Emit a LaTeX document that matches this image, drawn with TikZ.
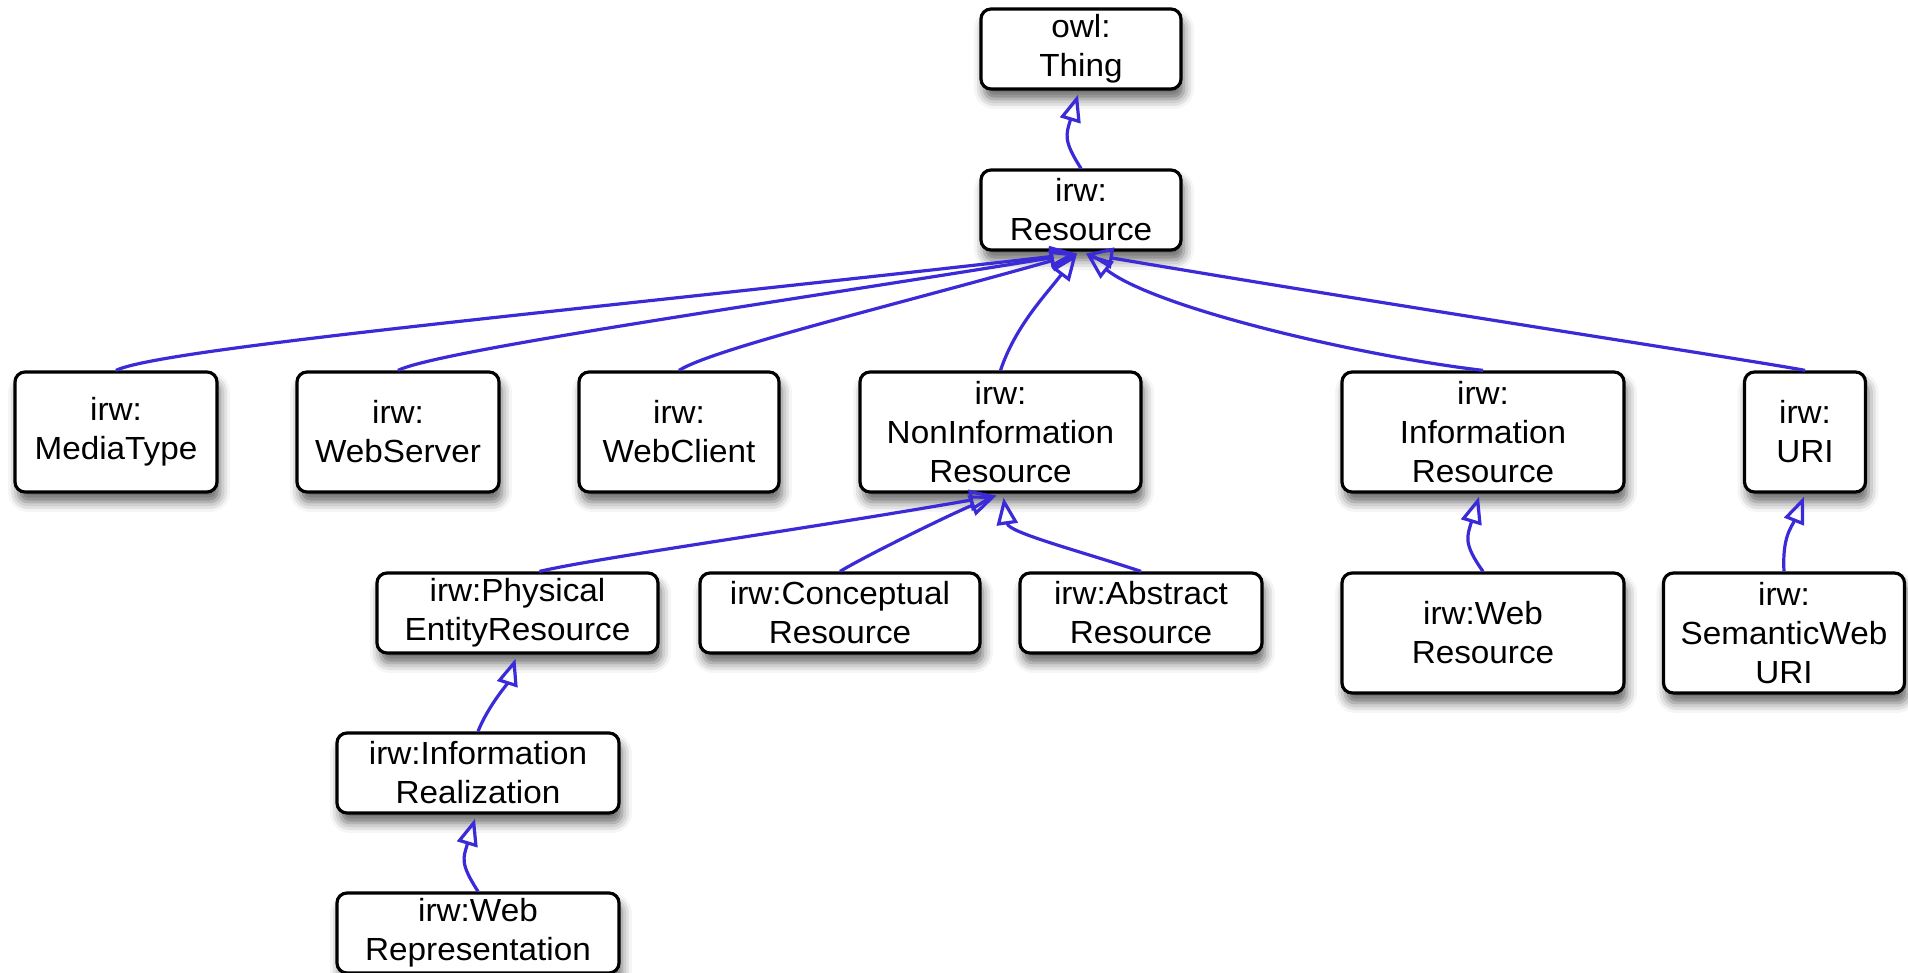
\documentclass[tikz,border=0pt]{standalone}
\usepackage{fontspec}
\setmainfont{Liberation Sans}[FakeStretch=1.04]
\usetikzlibrary{arrows.meta,shadows.blur}
\definecolor{edgeblue}{RGB}{58,42,215}
\tikzset{
  box/.style={draw=black, line width=1.6pt, fill=white, rounded corners=5pt,
    align=center, inner sep=0pt,
    font=\fontsize{16pt}{19.5pt}\selectfont,
    blur shadow={shadow xshift=1.5pt, shadow yshift=-5pt, shadow blur radius=5pt, shadow opacity=60}},
  isa/.style={draw=edgeblue, line width=1.6pt,
    -{Triangle[open, length=13.5pt, width=10.5pt, line width=1.6pt]}}
}
\begin{document}
\begin{tikzpicture}[x=0.5pt, y=-0.5pt]
\useasboundingbox (0,0) rectangle (1908,973);
% nodes
\node[box, minimum width=100pt, minimum height=40pt] (thing) at (1081,49) {owl:\\Thing};
\node[box, minimum width=100pt, minimum height=40pt] (res) at (1081,210) {irw:\\Resource};
\node[box, minimum width=101pt, minimum height=60pt] (mt) at (116,432) {irw:\\MediaType};
\node[box, minimum width=101pt, minimum height=60pt] (ws) at (398,432) {irw:\\WebServer};
\node[box, minimum width=100pt, minimum height=60pt] (wc) at (679,432) {irw:\\WebClient};
\node[box, minimum width=140.5pt, minimum height=60pt] (ni) at (1000.5,432) {irw:\\NonInformation\\Resource};
\node[box, minimum width=141pt, minimum height=60pt] (ir) at (1483,432) {irw:\\Information\\Resource};
\node[box, minimum width=60.5pt, minimum height=60pt] (uri) at (1805,432) {irw:\\URI};
\node[box, minimum width=140.5pt, minimum height=40pt] (phys) at (517.5,613) {irw:Physical\\EntityResource};
\node[box, minimum width=140pt, minimum height=40pt] (conc) at (840,613) {irw:Conceptual\\Resource};
\node[box, minimum width=121pt, minimum height=40pt] (abs) at (1141,613) {irw:Abstract\\Resource};
\node[box, minimum width=141pt, minimum height=60pt] (wr) at (1483,633) {irw:Web\\Resource};
\node[box, minimum width=120.5pt, minimum height=60pt] (sw) at (1784,633) {irw:\\SemanticWeb\\URI};
\node[box, minimum width=141pt, minimum height=40pt] (real) at (478,773) {irw:Information\\Realization};
\node[box, minimum width=141pt, minimum height=40pt] (rep) at (478,933) {irw:Web\\Representation};
% tip coordinates
\coordinate (thingT) at ([shift={(-3,4)}]thing.south);
\coordinate (resL) at ([shift={(-4,2)}]res.south);
\coordinate (resR) at ([shift={(5,2)}]res.south);
\coordinate (niL) at ([shift={(-4,2)}]ni.south);
\coordinate (niR) at ([shift={(3,4)}]ni.south);
\coordinate (physT) at ([shift={(-2,4)}]phys.south);
\coordinate (realT) at ([shift={(-3,4)}]real.south);
\coordinate (irT) at ([shift={(-4,3)}]ir.south);
\coordinate (uriT) at ([shift={(-1,3)}]uri.south);
\coordinate (physS) at ([shift={(22,0)}]phys.north);
% edges
\draw[isa] (res.north) .. controls +(-18,-28) and +(-12,40) .. (thingT);
\draw[isa] (mt.north) .. controls +(45,-22) and +(-500,57) .. (resL);
\draw[isa] (ws.north) .. controls +(40,-20) and +(-300,49) .. (resL);
\draw[isa] (wc.north) .. controls +(35,-22) and +(-180,51) .. (resL);
\draw[isa] (ni.north) .. controls +(15,-45) and +(-30,40) .. (resL);
\draw[isa] (ir.north) .. controls +(-120,-14) and +(70,55) .. (resR);
\draw[isa] (uri.north) .. controls +(-40,-8) and +(300,51) .. (resR);
\draw[isa] (physS) .. controls +(60,-14) and +(-200,35) .. (niL);
\draw[isa] (conc.north) .. controls +(30,-18) and +(-40,16) .. (niL);
\draw[isa] (abs.north) .. controls +(-60,-20) and +(5,35) .. (niR);
\draw[isa] (real.north) .. controls +(10,-25) and +(-8,25) .. (physT);
\draw[isa] (rep.north) .. controls +(-18,-28) and +(-12,40) .. (realT);
\draw[isa] (wr.north) .. controls +(-20,-28) and +(-12,40) .. (irT);
\draw[isa] (sw.north) .. controls +(-2,-35) and +(-12,30) .. (uriT);
\end{tikzpicture}
\end{document}
